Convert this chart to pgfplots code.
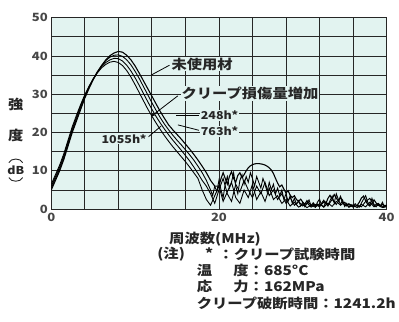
\documentclass[border=0pt]{standalone}
\usepackage{fontspec}
\setmainfont{Noto Sans CJK JP}[FakeStretch=1.15]
\usepackage{pgfplots}
\pgfplotsset{compat=1.18}
\usetikzlibrary{arrows.meta}
\definecolor{bgc}{RGB}{226,243,240}
\definecolor{ink}{RGB}{38,38,38}
\newcommand{\fA}{\fontsize{13.5bp}{15bp}\selectfont\bfseries}
\newcommand{\fB}{\fontsize{11bp}{13bp}\selectfont\bfseries}
\newcommand{\fT}{\fontsize{11.5bp}{13bp}\selectfont\bfseries}
\begin{document}
\begin{tikzpicture}
\fill[bgc] (0,0) rectangle (340bp,194bp);
\begin{axis}[
  scale only axis, width=340bp, height=194bp,
  xmin=0, xmax=40, ymin=0, ymax=50,
  xtick={0,20,40}, minor xtick={4,8,12,16,24,28,32,36},
  ytick={0,10,20,30,40,50}, minor ytick={5,15,25,35,45},
  grid=both,
  grid style={draw=ink, line width=0.85pt},
  major grid style={draw=ink, line width=0.85pt},
  minor grid style={draw=ink, line width=0.85pt},
  major tick length=0pt, minor tick length=0pt,
  axis line style={ink, line width=1.1pt},
  /pgf/number format/assume math mode=true,
  ticklabel style={font=\fT, text=ink!85},
  xticklabel style={yshift=-1bp},
]
% unused
\addplot[black, line width=1.1pt] coordinates {
(0,5) (0.5,7.5) (1,10) (1.5,13) (2,16.5) (2.5,20) (3,23) (3.5,26) (4,29) (4.5,31.5)
(5,33.8) (5.5,35.8) (6,37.5) (6.5,39) (7,40.1) (7.5,40.8) (8,41.2) (8.5,41) (9,40.2) (9.5,39)
(10,37.4) (10.5,35.5) (11,33.5) (11.5,31.5) (12,29.5) (12.5,27.5) (13,25.5) (13.5,23.7) (14,22) (14.5,20.7)
(15,19.5) (15.5,18.3) (16,17) (16.5,15.7) (17,14.3) (17.5,12.8) (18,11.2) (18.5,9.5) (19,7.5) (19.5,6)
(20,6) (20.25,8) (20.5,9.5) (20.75,8) (21,6.5) (21.25,8.5) (21.5,9.8) (21.75,8) (22,7) (22.25,8.8)
(22.5,9.5) (22.75,8.2) (23,9) (23.25,10) (23.5,10.8) (23.75,11.3) (24,11.6) (24.25,11.8) (24.5,11.9) (24.75,11.9)
(25,11.8) (25.25,11.7) (25.5,11.5) (25.75,11.2) (26,10.8) (26.25,10.2) (26.5,9.3) (26.75,8) (27,6.8) (27.25,5.8)
(27.5,6.3) (27.75,5.2) (28,4.2) (28.25,4.8) (28.5,3.6) (28.75,3) (29,3.5) (29.25,2.5) (29.5,2) (29.75,2.6)
(30,1.8) (30.25,1.3) (30.5,2.2) (30.75,1.5) (31,1) (31.25,1.6) (31.5,0.9) (31.75,1.3) (32,0.8) (32.25,1.5)
(32.5,2.3) (32.75,1.4) (33,2.8) (33.25,3.6) (33.5,2.6) (33.75,3.8) (34,2.9) (34.25,2) (34.5,3.3) (34.75,1.8)
(35,1.2) (35.25,0.8) (35.5,1.4) (35.75,0.9) (36,1.1) (36.25,0.7) (36.5,1) (36.75,1.8) (37,2.9) (37.25,3.4)
(37.5,2.2) (37.75,1.2) (38,0.8) (38.25,1.5) (38.5,2.4) (38.75,1.6) (39,1) (39.25,0.8) (39.5,1.2) (39.75,0.9) (40,1)
};
% 248h
\addplot[black, line width=0.9pt] coordinates {
(0,5.5) (0.5,8) (1,10.5) (1.5,13.5) (2,17) (2.5,20.5) (3,23.5) (3.5,26.5) (4,29.3) (4.5,31.8)
(5,34) (5.5,35.9) (6,37.5) (6.5,38.8) (7,39.7) (7.5,40.2) (8,40.3) (8.5,39.9) (9,39) (9.5,37.7)
(10,36) (10.5,34.1) (11,32) (11.5,29.9) (12,27.8) (12.5,25.8) (13,23.9) (13.5,22.2) (14,20.7) (14.5,19.3)
(15,18) (15.5,16.8) (16,15.5) (16.5,14.2) (17,12.8) (17.5,11.2) (18,9.5) (18.5,7.5)
(19,5) (19.25,3.5) (19.5,6) (19.75,4.5) (20,7.5) (20.25,5) (20.5,3) (20.75,6.5) (21,8.5) (21.25,5.5)
(21.5,7) (21.75,9.5) (22,6) (22.25,4) (22.5,7.5) (22.75,9) (23,6.5) (23.25,8.5) (23.5,7) (23.75,9.5)
(24,8) (24.25,6) (24.5,8.5) (24.75,7) (25,5.5) (25.25,8) (25.5,6.5) (25.75,4.5) (26,7) (26.25,5)
(26.5,6.5) (26.75,4) (27,5.5) (27.25,3.5) (27.5,5) (27.75,2.5) (28,4) (28.25,2) (28.5,3.5) (28.75,1.5)
(29,2.8) (29.25,1.2) (29.5,2.2) (29.75,0.8) (30,1.8) (30.25,0.6) (30.5,1.5) (30.75,2.4) (31,0.7) (31.25,1.3)
(31.5,0.5) (31.75,1.8) (32,2.6) (32.25,1) (32.5,0.6) (32.75,1.9) (33,0.8) (33.25,2.2) (33.5,3.4) (33.75,1.6)
(34,4) (34.25,2.5) (34.5,1.2) (34.75,2.4) (35,0.7) (35.25,1.5) (35.5,0.5) (35.75,1.2) (36,0.6) (36.25,1.4)
(36.5,0.8) (36.75,0.5) (37,1.6) (37.25,2.6) (37.5,3.5) (37.75,1.8) (38,1) (38.25,2.8) (38.5,1.2) (38.75,0.6)
(39,1.4) (39.25,0.7) (39.5,1.8) (39.75,0.6) (40,0.9)
};
% 763h
\addplot[black, line width=0.9pt] coordinates {
(0,6) (0.5,8.5) (1,11) (1.5,14) (2,17.5) (2.5,21) (3,24) (3.5,27) (4,29.6) (4.5,32)
(5,34) (5.5,35.8) (6,37.2) (6.5,38.3) (7,39) (7.5,39.4) (8,39.3) (8.5,38.7) (9,37.6) (9.5,36.1)
(10,34.3) (10.5,32.3) (11,30.2) (11.5,28.1) (12,26.1) (12.5,24.2) (13,22.5) (13.5,20.9) (14,19.4) (14.5,18)
(15,16.7) (15.5,15.4) (16,14) (16.5,12.6) (17,11) (17.5,9.3) (18,7.5)
(18.5,6) (19,4) (19.5,1.5) (20,5) (20.5,8) (21,4) (21.5,2) (22,6.5) (22.5,4.5) (23,7.5)
(23.5,5) (24,3) (24.5,6) (25,4) (25.5,7) (26,3.5) (26.5,5) (27,2.5) (27.5,4) (28,1.5)
(28.5,3) (29,1) (29.5,2) (30,0.8) (30.5,1.6) (31,0.5) (31.5,1.2) (32,0.6) (32.5,1.8) (33,0.9)
(33.5,2.5) (34,1.2) (34.5,3) (35,0.8) (35.5,1.3) (36,0.5) (36.5,1) (37,0.6) (37.5,2) (38,2.8)
(38.5,0.9) (39,1.5) (39.5,0.6) (40,0.8)
};
% 1055h
\addplot[black, line width=0.9pt] coordinates {
(0,6.5) (0.5,9) (1,11.5) (1.5,14.5) (2,18) (2.5,21.5) (3,24.5) (3.5,27.3) (4,29.9) (4.5,32.1)
(5,34) (5.5,35.6) (6,36.9) (6.5,37.8) (7,38.4) (7.5,38.6) (8,38.3) (8.5,37.5) (9,36.2) (9.5,34.5)
(10,32.5) (10.5,30.4) (11,28.3) (11.5,26.2) (12,24.3) (12.5,22.5) (13,20.8) (13.5,19.2) (14,17.7) (14.5,16.3)
(15,15) (15.5,13.7) (16,12.4) (16.5,11) (17,9.5) (17.5,8)
(18,5) (18.5,2.5) (19,1) (19.5,3.5) (20,6) (20.5,2) (21,4.5) (21.5,7) (22,3) (22.5,1.5)
(23,5) (23.5,3) (24,6.5) (24.5,2.5) (25,4.5) (25.5,2) (26,5.5) (26.5,2.5) (27,3.5) (27.5,1.5)
(28,2.5) (28.5,0.8) (29,1.8) (29.5,0.5) (30,1.2) (30.5,0.4) (31,1) (31.5,0.5) (32,1.4) (32.5,0.5)
(33,1.6) (33.5,0.7) (34,2) (34.5,1) (35,1.8) (35.5,0.5) (36,0.9) (36.5,0.4) (37,1.2) (37.5,0.6)
(38,1.8) (38.5,0.6) (39,1) (39.5,0.4) (40,0.6)
};
% annotations
\draw[black, line width=0.8pt] (axis cs:11.9,35) -- (axis cs:14.1,37.6);
\node[anchor=west, fill=bgc, inner sep=1pt, text=ink, font=\fA] at (axis cs:14.2,37.9) {未使用材};
\draw[black, line width=0.8pt, -{Stealth[length=4pt]}] (axis cs:15.1,29.6) -- (axis cs:11.9,24.2);
\node[anchor=west, fill=bgc, inner sep=1pt, text=ink, font=\fA] at (axis cs:15.4,30.2) {クリープ損傷量増加};
\draw[black, line width=0.8pt] (axis cs:14.9,24.4) -- (axis cs:17.6,24.4);
\node[anchor=west, fill=bgc, inner sep=1pt, text=ink, font=\fB] at (axis cs:17.7,24.5) {248h*};
\draw[black, line width=0.8pt] (axis cs:15.1,22.0) -- (axis cs:17.6,20.6);
\node[anchor=west, fill=bgc, inner sep=1pt, text=ink, font=\fB] at (axis cs:17.7,20.3) {763h*};
\draw[black, line width=0.8pt] (axis cs:11.6,18.9) -- (axis cs:13.1,21.7);
\node[anchor=east, fill=bgc, inner sep=1pt, text=ink, font=\fB] at (axis cs:11.5,18.4) {1055h*};
\end{axis}
% y label
\node[text=ink, font=\fA] at (-36bp,106bp) {強};
\node[text=ink, font=\fA] at (-36bp,75bp) {度};
\node[text=ink, font=\fB, inner sep=0pt] at (-36bp,39.5bp) {dB};
\draw[ink, line width=0.9pt] (-43bp,47bp) .. controls (-41bp,52bp) and (-31bp,52bp) .. (-29bp,47bp);
\draw[ink, line width=0.9pt] (-43bp,32bp) .. controls (-41bp,27bp) and (-31bp,27bp) .. (-29bp,32bp);
% x label
\node[text=ink, font=\fA] at (166bp,-30bp) {周波数(MHz)};
% notes
\node[anchor=west, text=ink, font=\fA] at (104bp,-46bp) {(注)};
\node[text=ink, font=\fA] at (160bp,-45bp) {*};
\node[anchor=west, text=ink, font=\fA] at (166bp,-46bp) {：クリープ試験時間};
\node[anchor=west, text=ink, font=\fA] at (144bp,-62bp) {温\hspace{1.6em}度：685°C};
\node[anchor=west, text=ink, font=\fA] at (144bp,-78bp) {応\hspace{1.6em}力：162MPa};
\node[anchor=west, text=ink, font=\fA] at (144bp,-96bp) {クリープ破断時間：1241.2h};
\path[use as bounding box] (-52bp,-114bp) rectangle (347bp,212bp);
\end{tikzpicture}
\end{document}
